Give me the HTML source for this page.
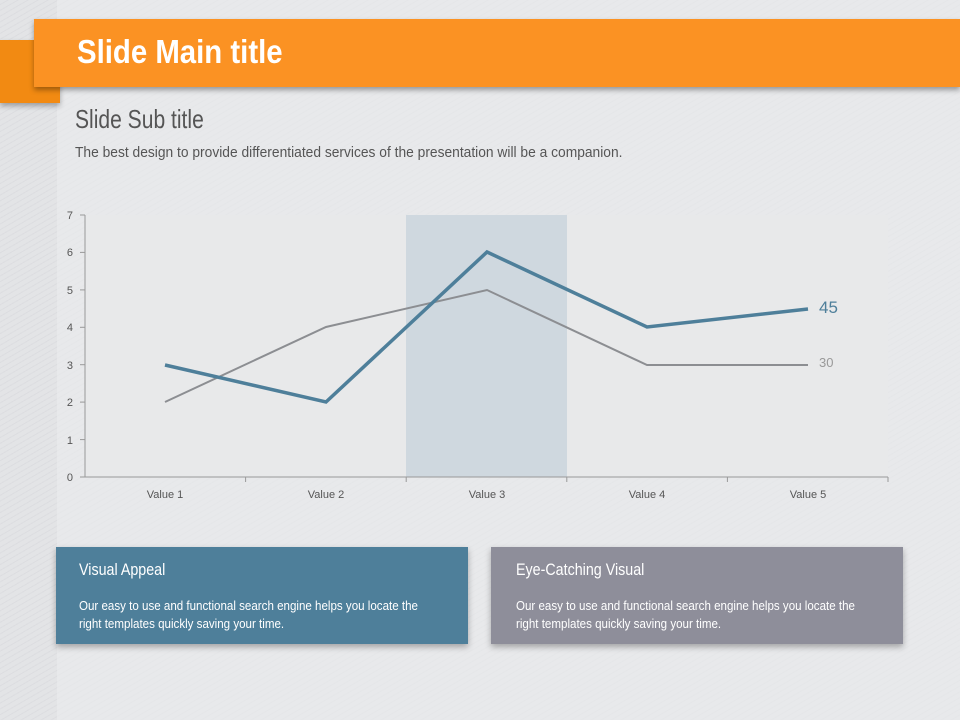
<!DOCTYPE html>
<html><head><meta charset="utf-8"><style>
body{margin:0;width:960px;height:720px;overflow:hidden;font-family:"Liberation Sans",sans-serif;
background:repeating-linear-gradient(-30deg,#e3e4e6 0 4px,#dcdde0 4px 5px);position:relative}
.panel{position:absolute;left:57px;top:0;width:903px;height:720px;background:rgba(236,237,239,0.55)}
.t{position:absolute;white-space:nowrap;transform-origin:0 0}
</style></head><body>
<div class="panel"></div>
<div style="position:absolute;left:0;top:40px;width:60px;height:63px;background:#f28a12;box-shadow:0 3px 5px rgba(0,0,0,.3)"></div>
<div style="position:absolute;left:34px;top:19px;width:926px;height:68px;background:#fb9223;box-shadow:0 3px 5px rgba(0,0,0,.35)"></div>
<div class="t" style="left:77px;top:33px;font-size:33px;font-weight:bold;color:#fff;transform:scaleX(.89)">Slide Main title</div>
<div class="t" style="left:75px;top:104px;font-size:26px;color:#555;transform:scaleX(.81)">Slide Sub title</div>
<div class="t" style="left:75px;top:144px;font-size:15px;color:#555;transform:scaleX(.92)">The best design to provide differentiated services of the presentation will be a companion.</div>
<svg style="position:absolute;left:0;top:0" width="960" height="720">
<rect x="85" y="215" width="803" height="262" fill="#e8e9ea"/>
<rect x="406" y="215" width="161" height="262" fill="#cfd8df"/>
<g stroke="#999" stroke-width="1">
<line x1="85" y1="215" x2="85" y2="477"/><line x1="85" y1="477" x2="888" y2="477"/>
<line x1="80" y1="215" x2="85" y2="215"/><line x1="80" y1="252.4" x2="85" y2="252.4"/><line x1="80" y1="289.9" x2="85" y2="289.9"/><line x1="80" y1="327.3" x2="85" y2="327.3"/><line x1="80" y1="364.7" x2="85" y2="364.7"/><line x1="80" y1="402.1" x2="85" y2="402.1"/><line x1="80" y1="439.6" x2="85" y2="439.6"/><line x1="80" y1="477" x2="85" y2="477"/>
<line x1="245.6" y1="477" x2="245.6" y2="482"/><line x1="406.2" y1="477" x2="406.2" y2="482"/><line x1="566.8" y1="477" x2="566.8" y2="482"/><line x1="727.4" y1="477" x2="727.4" y2="482"/><line x1="888" y1="477" x2="888" y2="482"/>
</g>
<g font-size="11" fill="#555" text-anchor="end">
<text x="73" y="219">7</text><text x="73" y="256">6</text><text x="73" y="294">5</text><text x="73" y="331">4</text><text x="73" y="369">3</text><text x="73" y="406">2</text><text x="73" y="444">1</text><text x="73" y="481">0</text></g>
<g font-size="11" fill="#555" text-anchor="middle">
<text x="165" y="498">Value 1</text><text x="326" y="498">Value 2</text><text x="487" y="498">Value 3</text><text x="647" y="498">Value 4</text><text x="808" y="498">Value 5</text></g>
<polyline points="165,402 326,327 487,290 647,365 808,365" fill="none" stroke="#8c8e92" stroke-width="2"/>
<polyline points="165,365 326,402 487,252 647,327 808,309" fill="none" stroke="#4e7f9a" stroke-width="3.5"/>
<text x="819" y="313" font-size="17" fill="#4e7f9a">45</text>
<text x="819" y="367" font-size="13" fill="#999">30</text>
</svg>
<div style="position:absolute;left:56px;top:547px;width:412px;height:97px;background:#4e7f9a;box-shadow:0 3px 6px rgba(0,0,0,.3)"></div>
<div style="position:absolute;left:491px;top:547px;width:412px;height:97px;background:#8e8e9a;box-shadow:0 3px 6px rgba(0,0,0,.3)"></div>
<div class="t" style="left:79px;top:560px;font-size:17px;color:#fff;transform:scaleX(.84)">Visual Appeal</div>
<div class="t" style="left:79px;top:597px;font-size:13px;line-height:18px;color:#fff;transform:scaleX(.89)">Our easy to use and functional search engine helps you locate the<br>right templates quickly saving your time.</div>
<div class="t" style="left:516px;top:560px;font-size:17px;color:#fff;transform:scaleX(.84)">Eye-Catching Visual</div>
<div class="t" style="left:516px;top:597px;font-size:13px;line-height:18px;color:#fff;transform:scaleX(.89)">Our easy to use and functional search engine helps you locate the<br>right templates quickly saving your time.</div>
</body></html>
